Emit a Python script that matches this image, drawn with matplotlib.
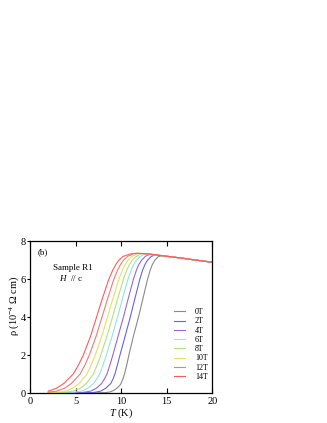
import numpy as np
import matplotlib
matplotlib.use('Agg')
import matplotlib.pyplot as plt

plt.rcParams['font.family'] = ['Liberation Serif', 'DejaVu Serif']
plt.rcParams['mathtext.fontset'] = 'custom'
plt.rcParams['mathtext.rm'] = 'Liberation Serif'
plt.rcParams['mathtext.it'] = 'Liberation Serif:italic'

# normal-state part shared by all fields
T_tail = [12.5, 13.0, 13.5, 14.0, 14.5, 15, 16, 17, 18, 19, 20]
rho_tail = [7.35, 7.33, 7.30, 7.27, 7.24, 7.21, 7.15, 7.09, 7.02, 6.96, 6.89]

# superconducting transition
T_0T = [2, 8.3, 8.8, 9.2, 9.6, 9.9, 10.0, 10.2, 10.4, 10.62, 10.85, 11.35, 11.9, 12.4, 12.9, 13.2, 13.45, 13.7, 14.1]
rho_0T = [0.0, 0.02, 0.06, 0.14, 0.28, 0.43, 0.52, 0.75, 1.05, 1.5, 2.0, 3.0, 4.0, 5.0, 6.0, 6.5, 6.8, 7.0, 7.2]

T_2T = [2, 6.91, 7.76, 8.31, 8.86, 9.12, 9.35, 9.6, 9.87, 10.44, 11.0, 11.52, 12.05, 12.37, 12.64, 12.89, 13.3, 13.7]
rho_2T = [0.0, 0.02, 0.1, 0.25, 0.5, 0.75, 1.05, 1.5, 2.0, 3.0, 4.0, 5.0, 6.0, 6.5, 6.8, 7.0, 7.2, 7.28]

T_4T = [2, 5.68, 6.66, 7.28, 7.86, 8.17, 8.45, 8.78, 9.09, 9.67, 10.25, 10.79, 11.35, 11.69, 11.97, 12.24, 12.65, 13.1]
rho_4T = [0.0, 0.02, 0.1, 0.25, 0.5, 0.75, 1.0, 1.5, 2.0, 3.0, 4.0, 5.0, 6.0, 6.5, 6.8, 7.0, 7.2, 7.32]

T_6T = [2, 4.54, 5.67, 6.34, 6.97, 7.33, 7.65, 8.03, 8.38, 9.01, 9.6, 10.16, 10.75, 11.11, 11.41, 11.68, 12.1, 12.6]
rho_6T = [0.0, 0.02, 0.1, 0.25, 0.5, 0.75, 1.0, 1.5, 2.0, 3.0, 4.0, 5.0, 6.0, 6.5, 6.8, 7.0, 7.2, 7.34]

T_8T = [2, 3.51, 4.78, 5.51, 6.18, 6.95, 7.39, 7.77, 8.44, 9.05, 9.64, 10.25, 10.64, 10.94, 11.22, 11.65, 12.2]
rho_8T = [0.005, 0.02, 0.1, 0.25, 0.5, 1.0, 1.5, 2.0, 3.0, 4.0, 5.0, 6.0, 6.5, 6.8, 7.0, 7.2, 7.35]

T_10T = [2, 3.0, 3.89, 4.67, 5.39, 6.25, 6.74, 7.16, 7.88, 8.5, 9.11, 9.75, 10.16, 10.48, 10.76, 11.2, 11.8]
rho_10T = [0.015, 0.04, 0.1, 0.25, 0.5, 1.0, 1.5, 2.0, 3.0, 4.0, 5.0, 6.0, 6.5, 6.8, 7.0, 7.2, 7.35]

T_12T = [2, 2.94, 3.79, 4.54, 5.5, 6.05, 6.51, 7.26, 7.9, 8.53, 9.2, 9.63, 9.96, 10.26, 10.7, 11.3, 11.8]
rho_12T = [0.05, 0.1, 0.25, 0.5, 1.0, 1.5, 2.0, 3.0, 4.0, 5.0, 6.0, 6.5, 6.8, 7.0, 7.2, 7.34, 7.36]

T_14T = [2, 2.9, 3.7, 4.75, 5.35, 5.85, 6.65, 7.3, 7.95, 8.65, 9.1, 9.45, 9.75, 10.2, 11.0, 11.7]
rho_14T = [0.1, 0.25, 0.5, 1.0, 1.5, 2.0, 3.0, 4.0, 5.0, 6.0, 6.5, 6.8, 7.0, 7.2, 7.33, 7.37]

labels = ['0T', '2T', '4T', '6T', '8T', '10T', '12T', '14T']
colors = ['#8a8a8a', '#6464ec', '#9a66d8', '#8ce6ea', '#b4e27a', '#e6e25a', '#f27878', '#ff5a5a']
curves = [(T_0T, rho_0T), (T_2T, rho_2T), (T_4T, rho_4T), (T_6T, rho_6T),
          (T_8T, rho_8T), (T_10T, rho_10T), (T_12T, rho_12T), (T_14T, rho_14T)]

fig = plt.figure(figsize=(3.27, 4.23), dpi=100)
ax = fig.add_axes([0.0917, 0.0709, 0.5575, 0.3587])

for (T, rho), lab, c in zip(curves, labels, colors):
    T_tail_arr = np.array(T_tail)
    keep = T_tail_arr > T[-1] + 0.2
    x = np.concatenate([T, T_tail_arr[keep]])
    y = np.concatenate([rho, np.array(rho_tail)[keep]])
    ax.plot(x, y, color=c, lw=0.8, label=lab)

ax.set_xlim(0, 20)
ax.set_ylim(0, 8)
ax.set_xticks([0, 5, 10, 15, 20])
ax.set_yticks([0, 2, 4, 6, 8])
ax.tick_params(axis='x', direction='in', top=True, length=3.5, width=0.8,
               labelsize=7.5, pad=3)
ax.tick_params(axis='y', direction='out', right=False, length=2.5, width=0.8,
               labelsize=7.5, pad=0.5)
for s in ax.spines.values():
    s.set_linewidth(0.9)

ax.set_xlabel('$T$ (K)', fontsize=7.5, labelpad=0)
ax.set_ylabel('ρ (10$^{-4}$ Ω cm)', fontsize=7.5, va='center')
ax.yaxis.set_label_coords(-0.088, 0.577)

ax.text(0.04, 0.925, '(b)', transform=ax.transAxes, fontsize=6.5, va='center')
ax.text(0.128, 0.826, 'Sample R1', transform=ax.transAxes, fontsize=6.5, va='center')
ax.text(0.16, 0.76, '$H$  // c', transform=ax.transAxes, fontsize=6.5, va='center')

leg = ax.legend(loc='upper left', bbox_to_anchor=(0.79, 0.56), frameon=False,
                fontsize=5.8, handlelength=1.4, handletextpad=1.2,
                labelspacing=0.16, borderaxespad=0, borderpad=0)

fig.savefig('out.png', dpi=100)
